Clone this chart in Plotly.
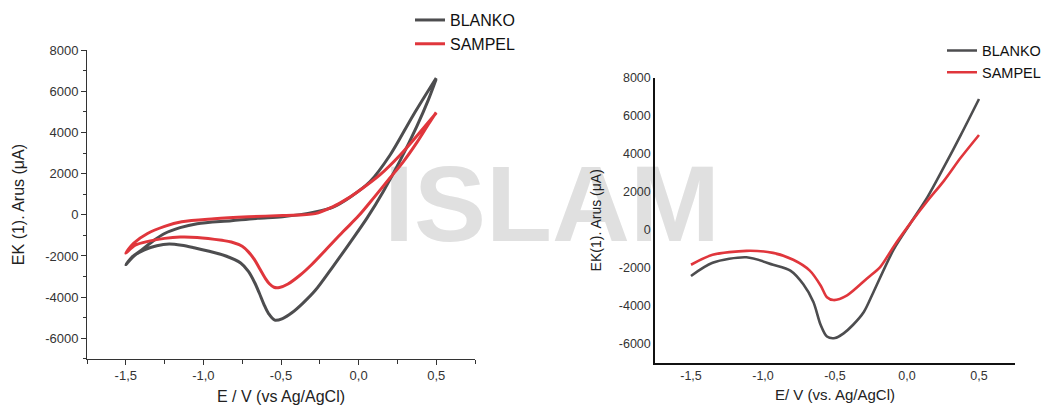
import plotly.graph_objects as go

# ---------------- data ----------------
# Left panel: cyclic voltammograms (closed loops: cathodic sweep from +0.5 V, then anodic sweep back)
blanko_cv_x = [0.5, 0.45, 0.375, 0.268, 0.16, 0.055, -0.055, -0.164, -0.28, -0.36, -0.43, -0.49,
               -0.54, -0.58, -0.61, -0.64, -0.67, -0.71, -0.76, -0.86, -0.97, -1.06, -1.14, -1.22,
               -1.30, -1.38, -1.44, -1.5,
               -1.46, -1.40, -1.32, -1.25, -1.15, -1.04, -0.82, -0.65, -0.49, -0.28, -0.164, -0.055,
               0.074, 0.203, 0.35, 0.5]
blanko_cv_y = [6600, 5600, 4300, 2650, 1150, -150, -1350, -2500, -3680, -4300, -4760, -5040,
               -5120, -4800, -4350, -3800, -3290, -2750, -2340, -1990, -1760, -1600, -1480, -1420,
               -1500, -1700, -1955, -2420,
               -2050, -1720, -1250, -906, -620, -430, -286, -170, -95, 143, 380, 860,
               1620, 2910, 4820, 6650]

sampel_cv_x = [0.5, 0.45, 0.377, 0.29, 0.203, 0.1, 0.0, -0.098, -0.205, -0.30, -0.38, -0.455, -0.51,
               -0.545, -0.575, -0.60, -0.635, -0.67, -0.71, -0.75, -0.82, -0.88, -1.04, -1.15, -1.25,
               -1.35, -1.44, -1.5,
               -1.45, -1.36, -1.25, -1.14, -0.93, -0.71, -0.49, -0.28, -0.164, -0.08, -0.01, 0.139,
               0.268, 0.416, 0.5]
sampel_cv_y = [4977, 4400, 3530, 2600, 1800, 850, -50, -800, -1650, -2400, -2950, -3360, -3530,
               -3520, -3350, -3100, -2650, -2190, -1800, -1530, -1320, -1240, -1100, -1080, -1145,
               -1280, -1480, -1860,
               -1380, -906, -560, -334, -190, -95, -30, 60, 400, 750, 1100, 1955,
               2910, 4200, 4950]

# Right panel: single sweeps
blanko_ls_x = [-1.5, -1.35, -1.115, -0.93, -0.81, -0.72, -0.65, -0.60, -0.556, -0.50, -0.44, -0.374,
               -0.30, -0.234, -0.094, 0.024, 0.143, 0.255, 0.374, 0.5]
blanko_ls_y = [-2430, -1740, -1450, -1840, -2150, -2870, -3800, -5000, -5620, -5700, -5450, -5000,
               -4330, -3300, -1060, 340, 1730, 3280, 4990, 6880]

sampel_ls_x = [-1.5, -1.35, -1.115, -0.93, -0.79, -0.675, -0.60, -0.556, -0.51, -0.416, -0.276,
               -0.185, -0.094, 0.024, 0.143, 0.255, 0.374, 0.5]
sampel_ls_y = [-1840, -1320, -1110, -1215, -1580, -2150, -2930, -3550, -3700, -3450, -2550,
               -1950, -900, 350, 1530, 2560, 3800, 4990]

x_tickvals = [-1.5, -1.0, -0.5, 0.0, 0.5]
x_ticktext = ["-1,5", "-1,0", "-0,5", "0,0", "0,5"]
x_minor_tickvals = [-1.75, -1.25, -0.75, -0.25, 0.25, 0.75]
y_tickvals = [-6000, -4000, -2000, 0, 2000, 4000, 6000, 8000]
y_ticktext = ["-6000", "-4000", "-2000", "0", "2000", "4000", "6000", "8000"]

series_names = ["BLANKO", "SAMPEL"]
colors = ["#4d4d4f", "#e0363c"]
watermark_text = "ISLAM"

# ---------------- figure ----------------
W, H = 1052, 407
FONT = "Liberation Sans, Arial, sans-serif"

fig = go.Figure()

fig.add_trace(go.Scatter(x=blanko_cv_x, y=blanko_cv_y, name=series_names[0], mode="lines",
                         line=dict(color=colors[0], width=3, shape="spline", smoothing=0.9),
                         xaxis="x", yaxis="y", legend="legend"))
fig.add_trace(go.Scatter(x=sampel_cv_x, y=sampel_cv_y, name=series_names[1], mode="lines",
                         line=dict(color=colors[1], width=3, shape="spline", smoothing=0.9),
                         xaxis="x", yaxis="y", legend="legend"))
fig.add_trace(go.Scatter(x=blanko_ls_x, y=blanko_ls_y, name=series_names[0], mode="lines",
                         line=dict(color=colors[0], width=2.6, shape="spline", smoothing=0.8),
                         xaxis="x2", yaxis="y2", legend="legend2"))
fig.add_trace(go.Scatter(x=sampel_ls_x, y=sampel_ls_y, name=series_names[1], mode="lines",
                         line=dict(color=colors[1], width=2.6, shape="spline", smoothing=0.8),
                         xaxis="x2", yaxis="y2", legend="legend2"))


def px_x(p):
    return p / W


def px_y(p):
    return 1 - p / H


tickfont_l = dict(family=FONT, size=13, color="#333333")
tickfont_r = dict(family=FONT, size=12.5, color="#333333")

fig.update_layout(
    width=W, height=H,
    margin=dict(l=0, r=0, t=0, b=0),
    paper_bgcolor="white", plot_bgcolor="white",
    font=dict(family=FONT, color="#222222"),
    xaxis=dict(domain=[px_x(87), px_x(475)], anchor="y", range=[-1.75, 0.75],
               showline=True, linecolor="#333333", linewidth=1,
               ticks="outside", ticklen=5, tickcolor="#333333",
               tickvals=x_tickvals, ticktext=x_ticktext, tickfont=tickfont_l,
               minor=dict(ticks="outside", tickvals=x_minor_tickvals,
                          ticklen=4, tickcolor="#333333"),
               showgrid=False, zeroline=False,
               title=dict(text="E / V (vs Ag/AgCl)", font=dict(family=FONT, size=16, color="#222222"),
                          standoff=8)),
    yaxis=dict(domain=[px_y(358), px_y(44)], anchor="x", range=[-7000, 8000],
               showline=True, linecolor="#333333", linewidth=1,
               ticks="outside", ticklen=5, tickcolor="#333333",
               tickvals=y_tickvals, ticktext=y_ticktext, tickfont=tickfont_l,
               minor=dict(ticks="outside", dtick=1000, tick0=0, ticklen=3, tickcolor="#333333"),
               showgrid=False, zeroline=False,
               title=dict(text="EK (1). Arus (μA)", font=dict(family=FONT, size=16, color="#222222"),
                          standoff=16)),
    xaxis2=dict(domain=[px_x(655), px_x(1015)], anchor="y2", range=[-1.75, 0.75],
                showline=True, linecolor="#111111", linewidth=1.5, ticks="",
                tickvals=x_tickvals, ticktext=x_ticktext, tickfont=tickfont_r,
                showgrid=False, zeroline=False,
                title=dict(text="E/ V (vs. Ag/AgCl)", font=dict(family=FONT, size=15, color="#222222"),
                           standoff=8)),
    yaxis2=dict(domain=[px_y(362), px_y(72)], anchor="x2", range=[-7000, 8000],
                showline=True, linecolor="#111111", linewidth=1.5, ticks="",
                tickvals=y_tickvals, ticktext=y_ticktext, tickfont=tickfont_r,
                showgrid=False, zeroline=False,
                title=dict(text="EK(1). Arus (μA)", font=dict(family=FONT, size=14, color="#222222"),
                           standoff=14)),
    legend=dict(x=px_x(410), y=px_y(-4), xanchor="left", yanchor="top",
                bgcolor="rgba(0,0,0,0)", font=dict(family=FONT, size=16, color="#111111"),
                tracegroupgap=0, itemwidth=30),
    legend2=dict(x=px_x(942), y=px_y(28), xanchor="left", yanchor="top",
                 bgcolor="rgba(0,0,0,0)", font=dict(family=FONT, size=14.5, color="#111111"),
                 tracegroupgap=0, itemwidth=30),
    showlegend=True,
    shapes=[dict(type="rect", xref="paper", yref="paper",
                 x0=px_x(392), x1=px_x(712), y0=px_y(245), y1=px_y(135),
                 line=dict(width=0), fillcolor="rgba(0,0,0,0)", layer="below",
                 label=dict(text=watermark_text,
                            font=dict(family="Liberation Sans, Arial", size=108, weight="bold",
                                      color="#e0e0e0"),
                            textposition="middle center"))],
)

fig.write_html("out.html")
